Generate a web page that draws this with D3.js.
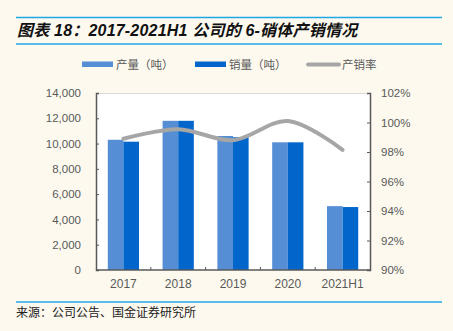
<!DOCTYPE html>
<html><head><meta charset="utf-8">
<script src="https://cdn.jsdelivr.net/npm/d3@7"></script>
<style>
body{margin:0;background:#FDF9EF;}
svg{display:block;}
</style></head><body>
<svg id="c" width="453" height="331"></svg>
<script>
const categories = ["2017","2018","2019","2020","2021H1"];
const production = [10300, 11800, 10600, 10100, 5050];
const sales = [10150, 11800, 10500, 10100, 4980];
const rate = [98.9, 99.55, 98.8, 100.1, 98.15];
const leftTicks = [0,2000,4000,6000,8000,10000,12000,14000];
const rightTicks = [90,92,94,96,98,100,102];
const seriesNames = ["产量（吨）","销量（吨）","产销率"];

const svg = d3.select("#c");
const W=453,H=331;
svg.append("rect").attr("width",W).attr("height",H).attr("fill","#FDF9EF");

// title
svg.append("line").attr("x1",16).attr("x2",442).attr("y1",17.5).attr("y2",17.5).attr("stroke","#1FA8E6").attr("stroke-width",1.5);
svg.append("line").attr("x1",16).attr("x2",442).attr("y1",44).attr("y2",44).attr("stroke","#1FA8E6").attr("stroke-width",1.5);
svg.append("text").attr("x",17).attr("y",35.5).text("图表 18：2017-2021H1 公司的 6-硝体产销情况")
  .attr("font-family","Liberation Sans, Noto Sans CJK SC, sans-serif").attr("font-size",16)
  .attr("letter-spacing",0.2)
  .attr("font-weight","bold").attr("font-style","italic").attr("fill","#111");

// plot
const m={l:96,r:370,t:93,b:270};
svg.append("rect").attr("x",m.l).attr("y",m.t).attr("width",m.r-m.l).attr("height",m.b-m.t).attr("fill","#fff");
svg.append("line").attr("x1",m.l).attr("x2",m.r).attr("y1",m.t+0.5).attr("y2",m.t+0.5).attr("stroke","#D9D9D9");

const x=d3.scaleBand().domain(categories).range([m.l,m.r]).paddingInner(0.43).paddingOuter(0.215);
const xs=d3.scaleBand().domain([0,1]).range([0,x.bandwidth()]);
const y=d3.scaleLinear().domain([0,14000]).range([m.b,m.t]);
const y2=d3.scaleLinear().domain([90,102]).range([m.b,m.t]);

const colors=["#558ED5","#0066CC"];
[production,sales].forEach((arr,i)=>{
  svg.append("g").selectAll("rect").data(arr).join("rect")
    .attr("x",(d,j)=>x(categories[j])+xs(i))
    .attr("width",xs.bandwidth())
    .attr("y",d=>y(d)).attr("height",d=>m.b-y(d))
    .attr("fill",colors[i]);
});

const line=d3.line().x((d,j)=>x(categories[j])+x.bandwidth()/2).y(d=>y2(d)).curve(d3.curveCatmullRom.alpha(0.5));
svg.append("path").attr("d",line(rate)).attr("fill","none").attr("stroke","#A6A6A6").attr("stroke-width",4).attr("stroke-linecap","round");

const axisColor="#595959";
const tf="Liberation Sans, Arial, sans-serif";
const ga=svg.append("g").attr("transform",`translate(${m.l},0)`).call(d3.axisLeft(y).tickValues(leftTicks).tickSize(-3).tickPadding(15).tickFormat(d3.format(",")));
const gb=svg.append("g").attr("transform",`translate(${m.r},0)`).call(d3.axisRight(y2).tickValues(rightTicks).tickSize(-3).tickPadding(11).tickFormat(d=>d+"%"));
const gc=svg.append("g").attr("transform",`translate(0,${m.b})`).call(d3.axisBottom(x).tickSize(0).tickPadding(9));
gc.selectAll(".sep").data(categories.slice(1)).join("line")
  .attr("x1",d=>x(d)-x.step()*x.paddingInner()/2).attr("x2",d=>x(d)-x.step()*x.paddingInner()/2)
  .attr("y1",0).attr("y2",-3).attr("stroke",axisColor);
[ga,gb,gc].forEach(g=>{
  g.select(".domain").attr("stroke",axisColor).attr("stroke-width",1.5);
  g.selectAll(".tick line").attr("stroke",axisColor);
  g.selectAll("text").attr("font-family",tf).attr("font-size",11.5).attr("fill","#595959");
});
gc.select(".domain").attr("d",`M${m.l},0H${m.r}`);
gc.selectAll("text").attr("font-size",12);

// legend
const lf="Noto Sans CJK SC, sans-serif";
const lg=svg.append("g");
lg.append("rect").attr("x",82).attr("y",61.5).attr("width",31).attr("height",5.5).attr("fill",colors[0]);
lg.append("text").attr("x",116).attr("y",68.5).text(seriesNames[0]);
lg.append("rect").attr("x",195).attr("y",61.5).attr("width",31).attr("height",5.5).attr("fill",colors[1]);
lg.append("text").attr("x",229).attr("y",68.5).text(seriesNames[1]);
lg.append("line").attr("x1",308).attr("x2",339).attr("y1",64.5).attr("y2",64.5).attr("stroke","#A6A6A6").attr("stroke-width",4).attr("stroke-linecap","round");
lg.append("text").attr("x",342).attr("y",68.5).text(seriesNames[2]);
lg.selectAll("text").attr("font-family",lf).attr("font-size",11.5).attr("fill","#595959");

// source
svg.append("line").attr("x1",16).attr("x2",442).attr("y1",302).attr("y2",302).attr("stroke","#1FA8E6").attr("stroke-width",1.5);
svg.append("text").attr("x",16).attr("y",317).text("来源：公司公告、国金证券研究所")
  .attr("font-family",lf).attr("font-size",12).attr("fill","#222");
</script>
</body></html>
